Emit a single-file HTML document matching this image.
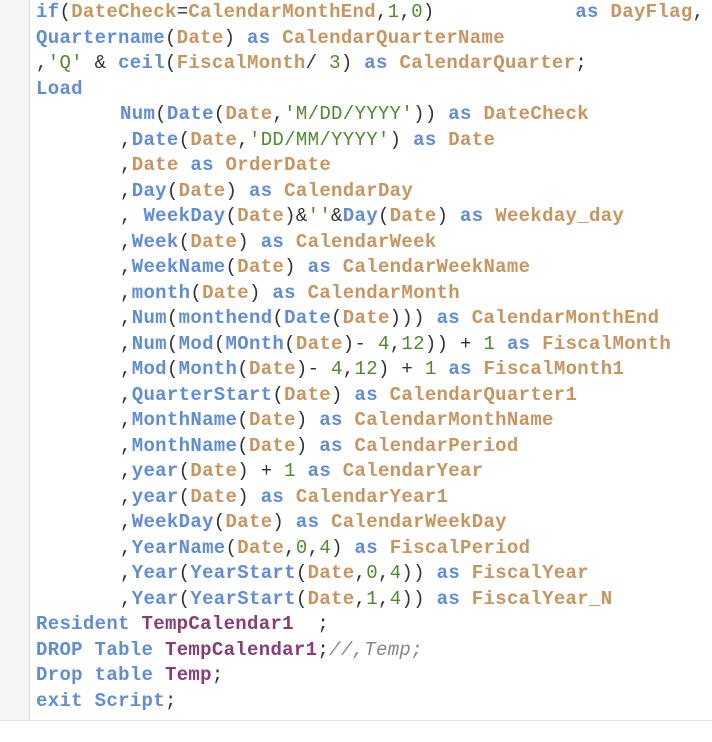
<!DOCTYPE html>
<html><head><meta charset="utf-8"><style>
html,body{margin:0;padding:0;background:#fff;width:712px;height:742px;overflow:hidden}
.g{position:absolute;left:0;top:0;width:29px;height:720px;background:#f5f5f5;border-right:1px solid #dcdcdc}
.b{position:absolute;left:0;top:720px;width:712px;height:1px;background:#e2e2e2}
pre{position:absolute;left:36px;top:0px;margin:0;font-family:"Liberation Mono",monospace;font-size:19px;letter-spacing:0.32px;line-height:25.5px;color:#333;white-space:pre}
.k{color:#5f8dda;font-weight:bold}
.f{color:#c9955f;font-weight:bold}
.s{color:#4f8a2f}
.t{color:#8a3c78;font-weight:bold}
.c{color:#888;font-style:italic}
.i{padding-left:84px;display:inline-block}
</style></head><body>
<div class="g"></div><div class="b"></div>
<pre><span class="k">if</span>(<span class="f">DateCheck</span>=<span class="f">CalendarMonthEnd</span>,<span class="s">1</span>,<span class="s">0</span>)            <span class="k">as</span> <span class="f">DayFlag</span>,
<span class="k">Quartername</span>(<span class="f">Date</span>) <span class="k">as</span> <span class="f">CalendarQuarterName</span>
,<span class="s">'Q'</span> &amp; <span class="k">ceil</span>(<span class="f">FiscalMonth</span>/ <span class="s">3</span>) <span class="k">as</span> <span class="f">CalendarQuarter</span>;
<span class="k">Load</span>
<span class="i"><span class="k">Num</span>(<span class="k">Date</span>(<span class="f">Date</span>,<span class="s">'M/DD/YYYY'</span>)) <span class="k">as</span> <span class="f">DateCheck</span></span>
<span class="i">,<span class="k">Date</span>(<span class="f">Date</span>,<span class="s">'DD/MM/YYYY'</span>) <span class="k">as</span> <span class="f">Date</span></span>
<span class="i">,<span class="f">Date</span> <span class="k">as</span> <span class="f">OrderDate</span></span>
<span class="i">,<span class="k">Day</span>(<span class="f">Date</span>) <span class="k">as</span> <span class="f">CalendarDay</span></span>
<span class="i">, <span class="k">WeekDay</span>(<span class="f">Date</span>)&amp;<span class="s">''</span>&amp;<span class="k">Day</span>(<span class="f">Date</span>) <span class="k">as</span> <span class="f">Weekday_day</span></span>
<span class="i">,<span class="k">Week</span>(<span class="f">Date</span>) <span class="k">as</span> <span class="f">CalendarWeek</span></span>
<span class="i">,<span class="k">WeekName</span>(<span class="f">Date</span>) <span class="k">as</span> <span class="f">CalendarWeekName</span></span>
<span class="i">,<span class="k">month</span>(<span class="f">Date</span>) <span class="k">as</span> <span class="f">CalendarMonth</span></span>
<span class="i">,<span class="k">Num</span>(<span class="k">monthend</span>(<span class="k">Date</span>(<span class="f">Date</span>))) <span class="k">as</span> <span class="f">CalendarMonthEnd</span></span>
<span class="i">,<span class="k">Num</span>(<span class="k">Mod</span>(<span class="k">MOnth</span>(<span class="f">Date</span>)- <span class="s">4</span>,<span class="s">12</span>)) + <span class="s">1</span> <span class="k">as</span> <span class="f">FiscalMonth</span></span>
<span class="i">,<span class="k">Mod</span>(<span class="k">Month</span>(<span class="f">Date</span>)- <span class="s">4</span>,<span class="s">12</span>) + <span class="s">1</span> <span class="k">as</span> <span class="f">FiscalMonth1</span></span>
<span class="i">,<span class="k">QuarterStart</span>(<span class="f">Date</span>) <span class="k">as</span> <span class="f">CalendarQuarter1</span></span>
<span class="i">,<span class="k">MonthName</span>(<span class="f">Date</span>) <span class="k">as</span> <span class="f">CalendarMonthName</span></span>
<span class="i">,<span class="k">MonthName</span>(<span class="f">Date</span>) <span class="k">as</span> <span class="f">CalendarPeriod</span></span>
<span class="i">,<span class="k">year</span>(<span class="f">Date</span>) + <span class="s">1</span> <span class="k">as</span> <span class="f">CalendarYear</span></span>
<span class="i">,<span class="k">year</span>(<span class="f">Date</span>) <span class="k">as</span> <span class="f">CalendarYear1</span></span>
<span class="i">,<span class="k">WeekDay</span>(<span class="f">Date</span>) <span class="k">as</span> <span class="f">CalendarWeekDay</span></span>
<span class="i">,<span class="k">YearName</span>(<span class="f">Date</span>,<span class="s">0</span>,<span class="s">4</span>) <span class="k">as</span> <span class="f">FiscalPeriod</span></span>
<span class="i">,<span class="k">Year</span>(<span class="k">YearStart</span>(<span class="f">Date</span>,<span class="s">0</span>,<span class="s">4</span>)) <span class="k">as</span> <span class="f">FiscalYear</span></span>
<span class="i">,<span class="k">Year</span>(<span class="k">YearStart</span>(<span class="f">Date</span>,<span class="s">1</span>,<span class="s">4</span>)) <span class="k">as</span> <span class="f">FiscalYear_N</span></span>
<span class="k">Resident</span> <span class="t">TempCalendar1</span>  ;
<span class="k">DROP</span> <span class="k">Table</span> <span class="t">TempCalendar1</span>;<span class="c">//,Temp;</span>
<span class="k">Drop</span> <span class="k">table</span> <span class="t">Temp</span>;
<span class="k">exit</span> <span class="k">Script</span>;</pre>
</body></html>
